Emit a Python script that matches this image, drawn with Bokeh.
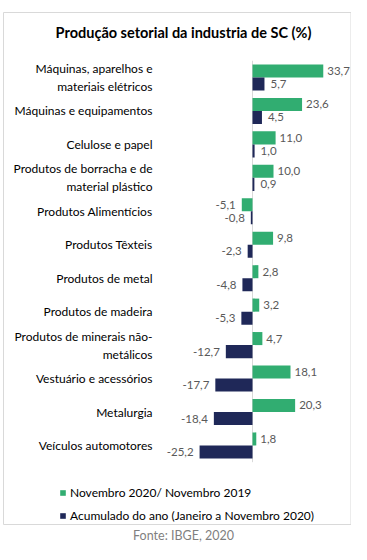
from bokeh.plotting import figure
from bokeh.models import Range1d, Legend, LegendItem, ColumnDataSource
from bokeh.core.properties import value
from bokeh.embed import file_html
from bokeh.resources import INLINE

# ---- data ----
categories = [
    "Máquinas, aparelhos e\nmateriais elétricos",
    "Máquinas e equipamentos",
    "Celulose e papel",
    "Produtos de borracha e de\nmaterial plástico",
    "Produtos Alimentícios",
    "Produtos Têxteis",
    "Produtos de metal",
    "Produtos de madeira",
    "Produtos de minerais não-\nmetálicos",
    "Vestuário e acessórios",
    "Metalurgia",
    "Veículos automotores",
]
nov_2020_vs_2019 = [33.7, 23.6, 11.0, 10.0, -5.1, 9.8, 2.8, 3.2, 4.7, 18.1, 20.3, 1.8]
acumulado_ano = [5.7, 4.5, 1.0, 0.9, -0.8, -2.3, -4.8, -5.3, -12.7, -17.7, -18.4, -25.2]
series_names = ["Novembro 2020/ Novembro 2019",
                "Acumulado do ano (Janeiro a Novembro 2020)"]
title_text = "Produção setorial da industria de SC (%)"
source_text = "Fonte: IBGE, 2020"

# ---- layout (pixels) ----
W, H = 351, 544
PX_PER_UNIT = 2.1
ZERO_PX = 252
ROW0_PX = 77
ROW_PX = 33.45
XMIN = -ZERO_PX / PX_PER_UNIT
XMAX = (W - ZERO_PX) / PX_PER_UNIT
YTOP = -ROW0_PX / ROW_PX
YBOT = (H - ROW0_PX) / ROW_PX


def X(px):
    return XMIN + px / PX_PER_UNIT


def Y(py):
    return (py - ROW0_PX) / ROW_PX


GREEN = "#31ad71"
NAVY = "#1f2858"
FONT = "Lato"
BAR_H = 0.39
OFF = 0.195

p = figure(width=W, height=H, output_backend="svg", toolbar_location=None,
           x_range=Range1d(XMIN, XMAX), y_range=Range1d(YBOT, YTOP),
           min_border=0, min_border_left=0, min_border_right=0,
           min_border_top=0, min_border_bottom=0)
p.axis.visible = False
p.grid.visible = False
p.outline_line_color = None
p.background_fill_color = "white"
p.border_fill_color = "white"

idx = list(range(len(categories)))

# outer box
p.quad(left=[X(3)], right=[X(350.5)], top=[Y(12)], bottom=[Y(524)],
       fill_color=None, line_color="#d9d9d9", line_width=1)

# zero line
p.segment(x0=[0], x1=[0], y0=[-0.5], y1=[len(categories) - 0.5],
          line_color="#d9d9d9", line_width=1)

src_g = ColumnDataSource(dict(
    y=[i - OFF for i in idx], v=nov_2020_vs_2019,
    lbl=[f"{v:.1f}".replace(".", ",") for v in nov_2020_vs_2019],
    al=["left" if v >= 0 else "right" for v in nov_2020_vs_2019],
    xo=[4 if v >= 0 else -6 for v in nov_2020_vs_2019]))
src_n = ColumnDataSource(dict(
    y=[i + OFF for i in idx], v=acumulado_ano,
    lbl=[f"{v:.1f}".replace(".", ",") for v in acumulado_ano],
    al=["left" if v >= 0 else "right" for v in acumulado_ano],
    xo=[6 if v >= 0 else -6 for v in acumulado_ano]))

rg = p.hbar(y="y", left=0, right="v", height=BAR_H, source=src_g,
            fill_color=GREEN, line_color=None)
rn = p.hbar(y="y", left=0, right="v", height=BAR_H, source=src_n,
            fill_color=NAVY, line_color=None)

for s in (src_g, src_n):
    p.text(x="v", y="y", text="lbl", source=s, text_align="al", x_offset="xo",
           text_baseline="middle", text_color="#595959",
           text_font=value(FONT), text_font_size="11.5px")

# category labels
p.text(x=[X(152)] * len(categories), y=idx, text=categories,
       text_align="right", text_baseline="middle", text_color="#000000",
       text_font=value(FONT), text_font_size="12px", text_line_height=1.2)

# title
p.text(x=[X(183)], y=[Y(32)], text=[title_text], text_align="center",
       text_baseline="middle", text_color="#000000", text_font=value(FONT),
       text_font_size="14.5px", text_font_style="bold")

# source
p.text(x=[X(183)], y=[Y(535)], text=[source_text], text_align="center",
       text_baseline="middle", text_color="#7f7f7f", text_font=value(FONT),
       text_font_size="12.5px")

legend = Legend(items=[LegendItem(label=series_names[0], renderers=[rg]),
                       LegendItem(label=series_names[1], renderers=[rn])],
                location=(59, 21), orientation="vertical",
                glyph_width=7, glyph_height=7, label_height=14, spacing=8,
                label_standoff=4, padding=0, margin=0,
                border_line_color=None, background_fill_alpha=0,
                label_text_font=FONT, label_text_font_size="12px",
                label_text_color="#000000")
p.add_layout(legend)

open("out.html", "w").write(file_html(p, INLINE))
